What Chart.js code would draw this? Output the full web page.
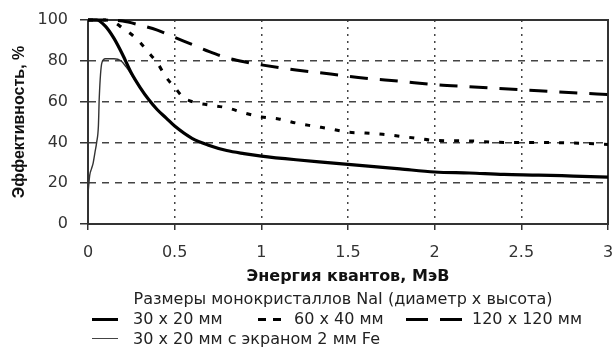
<!DOCTYPE html>
<html>
<head>
<meta charset="utf-8">
<script src="https://cdn.jsdelivr.net/npm/chart.js@4.4.1/dist/chart.umd.min.js"></script>
<style>
  html, body { margin: 0; padding: 0; background: #fff; }
  #wrap { position: relative; width: 613px; height: 352px; overflow: hidden; background: #fff; }
  #chartBox { position: absolute; left: 0; top: 0; width: 613px; height: 290px; }
  .lg { position: absolute; font-family: "DejaVu Sans", sans-serif; font-size: 16px; color: #222; white-space: nowrap; line-height: 18px; }
  .seg { position: absolute; height: 0; }
</style>
</head>
<body>
<div id="wrap">
  <div id="chartBox"><canvas id="c" width="613" height="290"></canvas></div>
  <div class="lg" id="cap" style="left:0; width:686px; text-align:center; top:290px;">Размеры монокристаллов NaI (диаметр x высота)</div>
  <!-- row 1 -->
  <div class="seg" style="left:92px; top:318px; width:26px; border-top:3px solid #000;"></div>
  <div class="lg" style="left:133px; top:310px;">30 x 20 мм</div>
  <div class="seg" style="left:258px; top:318px; width:8px; border-top:3px solid #000;"></div>
  <div class="seg" style="left:273px; top:318px; width:8px; border-top:3px solid #000;"></div>
  <div class="lg" style="left:294px; top:310px;">60 x 40 мм</div>
  <div class="seg" style="left:406px; top:318px; width:22px; border-top:3px solid #000;"></div>
  <div class="seg" style="left:440px; top:318px; width:22px; border-top:3px solid #000;"></div>
  <div class="lg" style="left:472px; top:310px;">120 x 120 мм</div>
  <!-- row 2 -->
  <div class="seg" style="left:92px; top:338px; width:26px; border-top:1.5px solid #444;"></div>
  <div class="lg" style="left:133px; top:330px;">30 x 20 мм с экраном 2 мм Fe</div>
</div>
<script>
// ---- data ----
const xTickLabels = ["0", "0.5", "1", "1.5", "2", "2.5", "3"];
const yTickLabels = ["0", "20", "40", "60", "80", "100"];

const seriesNames = ["30 x 20 мм", "60 x 40 мм", "120 x 120 мм", "30 x 20 мм с экраном 2 мм Fe"];

const energy30x20 = [0, 0.05, 0.1, 0.15, 0.2, 0.25, 0.3, 0.35, 0.4, 0.45, 0.5, 0.6, 0.7, 0.8, 0.9, 1.0, 1.2, 1.4, 1.6, 1.8, 2.0, 2.2, 2.4, 2.6, 2.8, 3.0];
const eff30x20    = [100, 100, 97, 91, 83, 74, 67, 61, 56, 52, 48, 42, 38.5, 36, 34.5, 33.3, 31.5, 30, 28.5, 27, 25.5, 25, 24.3, 24, 23.5, 23];

const energy60x40 = [0, 0.1, 0.15, 0.2, 0.25, 0.3, 0.35, 0.4, 0.45, 0.5, 0.55, 0.6, 0.7, 0.8, 0.9, 1.0, 1.1, 1.2, 1.3, 1.4, 1.5, 1.6, 1.7, 1.8, 1.9, 2.0, 2.2, 2.4, 2.6, 2.8, 3.0];
const eff60x40    = [100, 100, 99, 96, 93, 89, 84, 79, 72, 67, 62, 60, 58.3, 57, 54.5, 52.5, 51.5, 49.5, 48, 46.6, 45, 44.6, 44, 43, 42, 41, 40.7, 40, 40, 39.7, 39];

const energy120x120 = [0, 0.1, 0.2, 0.3, 0.4, 0.5, 0.6, 0.7, 0.8, 0.9, 1.0, 1.2, 1.4, 1.6, 1.8, 2.0, 2.2, 2.4, 2.6, 2.8, 3.0];
const eff120x120    = [100, 100, 99.5, 97.5, 95, 91.5, 88, 84.5, 81.5, 79.5, 78, 75.5, 73.5, 71.5, 70, 68.3, 67.3, 66.3, 65.3, 64.3, 63.5];

const energyFe = [0, 0.01, 0.02, 0.03, 0.04, 0.05, 0.06, 0.065, 0.08, 0.1, 0.15, 0.19, 0.22, 0.26, 0.3, 0.35];
const effFe    = [15, 24, 27, 30, 35, 40, 48, 62, 79, 81, 81, 80, 77, 72, 67, 61];

const xTitle = "Энергия квантов, МэВ";
const yTitle = "Эффективность, %";

// ---- build ----
const pts = (xs, ys) => xs.map((x, i) => ({ x: x, y: ys[i] }));

const framePlugin = {
  id: 'frame',
  beforeDatasetsDraw(chart) {
    const a = chart.chartArea, ctx = chart.ctx;
    ctx.save();
    ctx.setLineDash([]);
    ctx.strokeStyle = '#333';
    ctx.lineWidth = 2;
    ctx.strokeRect(a.left, a.top, a.right - a.left, a.bottom - a.top);
    ctx.restore();
  }
};

const common = { showLine: true, pointRadius: 0, fill: false, cubicInterpolationMode: 'monotone', clip: 6 };

new Chart(document.getElementById('c'), {
  type: 'scatter',
  data: {
    datasets: [
      Object.assign({}, common, { label: seriesNames[0], data: pts(energy30x20, eff30x20), borderColor: '#000', borderWidth: 3.2 }),
      Object.assign({}, common, { label: seriesNames[1], data: pts(energy60x40, eff60x40), borderColor: '#000', borderWidth: 3, borderDash: [5, 10] }),
      Object.assign({}, common, { label: seriesNames[2], data: pts(energy120x120, eff120x120), borderColor: '#000', borderWidth: 3, borderDash: [18, 12] }),
      Object.assign({}, common, { label: seriesNames[3], data: pts(energyFe, effFe), borderColor: '#333', borderWidth: 1.4 })
    ]
  },
  options: {
    responsive: false,
    animation: false,
    devicePixelRatio: 1,
    layout: { padding: { top: 20, right: 5, bottom: 0, left: 0 } },
    plugins: { legend: { display: false }, tooltip: { enabled: false } },
    scales: {
      x: {
        type: 'linear', min: 0, max: 3,
        afterFit(s) { s.height = 66; s.paddingLeft = 0; s.paddingRight = 0; },
        afterBuildTicks(s) { s.ticks = xTickLabels.map(t => ({ value: parseFloat(t) })); },
        ticks: {
          callback: (v) => { const i = xTickLabels.findIndex(t => parseFloat(t) === v); return i >= 0 ? xTickLabels[i] : ''; },
          font: { family: 'DejaVu Sans', size: 16 }, color: '#333', padding: 13, maxRotation: 0, autoSkip: false
        },
        grid: { color: '#444', lineWidth: 1.5, tickLength: 6, tickColor: '#333', tickWidth: 1.5, tickBorderDash: [] },
        border: { display: true, color: '#333', width: 2, dash: [2, 5] },
        title: { display: true, text: xTitle, font: { family: 'DejaVu Sans', weight: 'bold', size: 16 }, color: '#111', padding: { top: 0, bottom: 4 } }
      },
      y: {
        type: 'linear', min: 0, max: 100,
        afterFit(s) { s.width = 88; s.paddingTop = 0; s.paddingBottom = 0; },
        afterBuildTicks(s) { s.ticks = yTickLabels.map(t => ({ value: parseFloat(t) })); },
        ticks: {
          callback: (v) => { const i = yTickLabels.findIndex(t => parseFloat(t) === v); return i >= 0 ? yTickLabels[i] : ''; },
          font: { family: 'DejaVu Sans', size: 16 }, color: '#333', padding: 12
        },
        grid: { color: '#444', lineWidth: 1.5, tickLength: 8, tickColor: '#333', tickWidth: 1.5, tickBorderDash: [] },
        border: { display: true, color: '#333', width: 2, dash: [7, 6] },
        title: { display: true, text: yTitle, font: { family: 'Liberation Sans', weight: 'bold', size: 16 }, color: '#111', padding: { top: 10, bottom: 0 } }
      }
    }
  },
  plugins: [framePlugin]
});
</script>
</body>
</html>
